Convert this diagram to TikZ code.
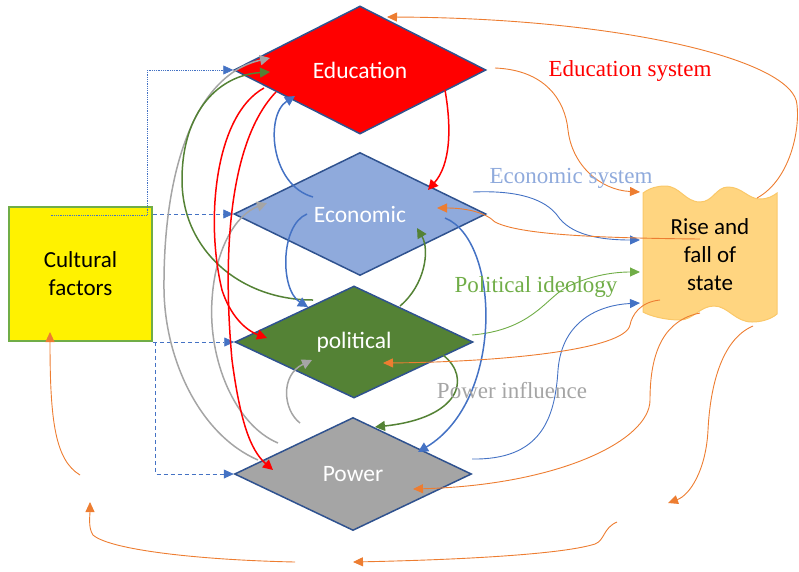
\documentclass[tikz,border=0pt]{standalone}
\usepackage{fontspec}
\setmainfont{Carlito}
\newfontfamily\labelfont{Liberation Serif}
\usetikzlibrary{shapes.geometric, arrows.meta}

\definecolor{edgeblue}{RGB}{47,82,143}
\definecolor{linkblue}{RGB}{68,114,196}
\definecolor{ecoblue}{RGB}{143,170,220}
\definecolor{polgreen}{RGB}{84,130,53}
\definecolor{lightgreen}{RGB}{112,173,71}
\definecolor{powgray}{RGB}{165,165,165}
\definecolor{linkorange}{RGB}{237,125,49}
\definecolor{risefill}{RGB}{255,213,128}
\definecolor{riseedge}{RGB}{250,200,105}

\begin{document}
\begin{tikzpicture}[x=1pt, y=-1pt,
    every node/.style={font=\fontsize{23}{28}\selectfont},
    factor/.style={diamond, draw=edgeblue, line width=1.5pt, text=white, inner sep=0pt,
                   font=\fontsize{23.5}{28}\selectfont},
    caption/.style={font=\labelfont\fontsize{23}{27}\selectfont, anchor=base},
    strong/.style={-{Triangle[length=10pt,width=10pt]}, line width=1.5pt},
    weak/.style={-{Triangle[length=10pt,width=9pt]}, line width=0.9pt},
    feed/.style={-{Triangle[length=10pt,width=9pt]}, linkblue, line width=0.8pt, dash pattern=on 4pt off 3pt}
]
\useasboundingbox (0,0) rectangle (799,571);

% the four factor diamonds
\node[factor, fill=red, minimum width=252pt, minimum height=128pt] (edu) at (360,70) {Education};
\node[factor, fill=ecoblue, minimum width=252pt, minimum height=123pt] (eco) at (360,214) {Economic};
\node[factor, fill=polgreen, minimum width=238pt, minimum height=112pt] (pol) at (354,342) {political};
\node[factor, fill=powgray, minimum width=237pt, minimum height=113pt] (pow) at (353,474) {Power};

\node[draw=lightgreen, line width=1.5pt, fill=yellow, minimum width=143pt, minimum height=134pt,
      align=center] (cult) at (80.5,274) {Cultural\\factors};

% wavy box for the state
\draw[fill=risefill, draw=riseedge, line width=1pt]
  (643,193) .. controls (650,188) and (657,186) .. (665,186)
  .. controls (680,186) and (685,202) .. (700,202)
  .. controls (713,202) and (716,187) .. (728,187)
  .. controls (742,187) and (748,199) .. (760,199)
  .. controls (768,199) and (773,196) .. (777,193)
  -- (777,314)
  .. controls (770,320) and (760,322) .. (752,322)
  .. controls (735,322) and (728,306) .. (714,306)
  .. controls (700,306) and (693,320) .. (680,320)
  .. controls (665,320) and (650,316) .. (643,312) -- cycle;
\node[align=center] (rise) at (710,255) {Rise and\\fall of\\state};

% cultural factors feed every diamond
\draw[feed, densely dotted, line width=0.6pt] ([shift={(-30,-59)}]cult.center) -- ++(97,0) |- (edu.west);
\draw[feed] (cult.east |- eco.west) -- (eco.west);
\draw[feed] (cult.east |- pol.west) -- (pol.west);
\draw[feed] ([xshift=3pt]cult.south east) |- (pow.west);

% power
\draw[strong, powgray] ([shift={(-95,-14)}]pow.center) .. controls (200,435) and (165,360) .. (164,290)
  .. controls (163,170) and (195,75) .. ([shift={(-90,-12)}]edu.center);
\draw[strong, powgray] ([shift={(-75,-31)}]pow.center) .. controls (235,425) and (208,360) .. (212,300)
  .. controls (215,250) and (235,215) .. ([shift={(-93,-11)}]eco.center);
\draw[strong, powgray] ([shift={(-53,-51)}]pow.center) .. controls (283,410) and (280,375) .. ([shift={(-42,18)}]pol.center);

% political
\draw[strong, polgreen] ([shift={(-41,-42)}]pol.center) .. controls (240,300) and (182,250) .. (182,180)
  .. controls (182,110) and (220,75) .. ([shift={(-90,2)}]edu.center);
\draw[strong, polgreen] ([shift={(46,-36)}]pol.center) .. controls (425,285) and (430,250) .. ([shift={(57,14)}]eco.center);
\draw[strong, polgreen] ([shift={(89,13)}]pol.center) .. controls (472,378) and (460,418) .. ([shift={(22,-47)}]pow.center);
\draw[weak, lightgreen] ([shift={(118,-7)}]pol.center) .. controls (530,330) and (545,300) .. (565,288)
  .. controls (590,275) and (615,272) .. ([shift={(-70,17)}]rise.center);

% education
\draw[strong, red] ([shift={(85,20)}]edu.center) .. controls (452,130) and (450,165) .. ([shift={(68,-24)}]eco.center);
\draw[strong, red] ([shift={(-96,18)}]edu.center) .. controls (215,115) and (205,220) .. (222,290)
  .. controls (230,315) and (245,330) .. ([shift={(-87,-4)}]pol.center);
\draw[strong, red] ([shift={(-84,22)}]edu.center) .. controls (230,140) and (222,250) .. (232,360)
  .. controls (240,420) and (250,450) .. ([shift={(-80,-4)}]pow.center);

% economic
\draw[strong, linkblue] ([shift={(-47,-17)}]eco.center) .. controls (270,185) and (265,115) .. ([shift={(-65,26)}]edu.center);
\draw[strong, linkblue] ([shift={(-53,0)}]eco.center) .. controls (280,225) and (280,290) .. ([shift={(-46,-35)}]pol.center);
\draw[strong, linkblue] ([shift={(85,4)}]eco.center) .. controls (500,240) and (505,400) .. ([shift={(65,-22)}]pow.center);
\draw[weak, linkblue] ([shift={(113,-22)}]eco.center) .. controls (520,190) and (545,200) .. (557,215)
  .. controls (570,235) and (600,240) .. ([shift={(-70,-15)}]rise.center);
\draw[weak, linkblue] ([shift={(119,-15)}]pow.center) .. controls (540,460) and (555,420) .. (558,370)
  .. controls (562,320) and (600,305) .. ([shift={(-70,48)}]rise.center);

% feedback from the state
\draw[weak, linkorange] ([shift={(47,-57)}]rise.center) .. controls (790,180) and (800,130) .. (797,105)
  .. controls (795,60) and (620,18) .. ([shift={(27,-53)}]edu.center);
\draw[weak, linkorange] ([shift={(135,-2)}]edu.center) .. controls (545,70) and (565,100) .. (568,130)
  .. controls (572,165) and (600,190) .. ([shift={(-70,-63)}]rise.center);
\draw[weak, linkorange] ([shift={(-10,-16)}]rise.center) .. controls (600,238) and (520,235) .. (495,222)
  .. controls (485,212) and (465,208) .. ([shift={(77,-6)}]eco.center);
\draw[weak, linkorange] ([shift={(-50,45)}]rise.center) .. controls (640,302) and (632,315) .. (630,325)
  .. controls (625,350) and (500,362) .. ([shift={(29,21)}]pol.center);
\draw[weak, linkorange] ([shift={(-10,58)}]rise.center) .. controls (665,320) and (650,350) .. (650,400)
  .. controls (650,440) and (560,485) .. ([shift={(60,15)}]pow.center);

\coordinate (loopa) at (668,503);
\coordinate (loopb) at (617,522);
\coordinate (loopc) at (353,562);
\coordinate (loopd) at (295,562);
\coordinate (loope) at (90,502);
\coordinate (loopf) at (80,475);
\draw[weak, linkorange] ([shift={(43,71)}]rise.center) .. controls (720,340) and (710,390) .. (708,430)
  .. controls (706,470) and (690,495) .. (loopa);
\draw[weak, linkorange] (loopb) .. controls (603,528) and (605,540) .. (595,544)
  .. controls (560,555) and (450,560) .. (loopc);
\draw[weak, linkorange] (loopd) .. controls (200,560) and (110,550) .. (93,535)
  .. controls (88,528) and (90,515) .. (loope);
\draw[weak, linkorange] (loopf) .. controls (55,460) and (50,420) .. ([shift={(-30.5,58)}]cult.center);

% labels
\node[caption, text=red] (edusys) at (630,76) {Education system};
\node[caption, text=ecoblue] (ecosys) at (571,183) {Economic system};
\node[caption, text=lightgreen] (polide) at (536,292) {Political ideology};
\node[caption, text=powgray] (powinf) at (512,398) {Power influence};
\end{tikzpicture}
\end{document}
